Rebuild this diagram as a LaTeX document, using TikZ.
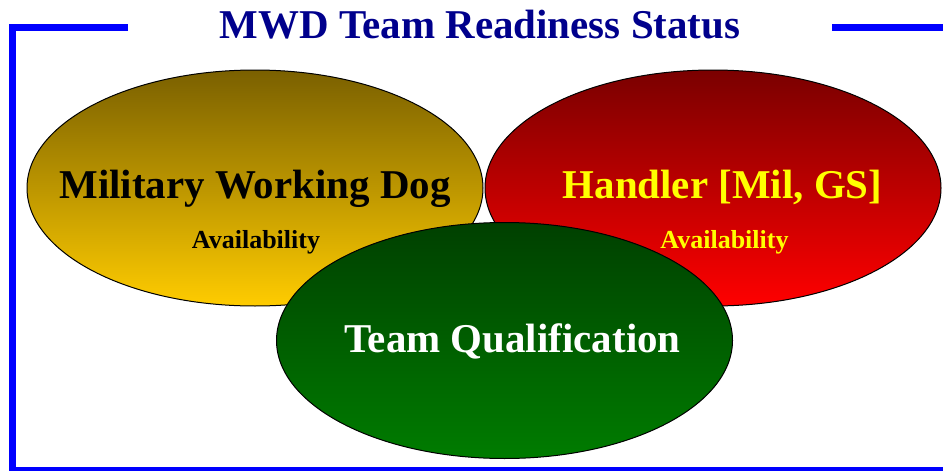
\documentclass[tikz,border=0pt]{standalone}
\usepackage{fontspec}
\setmainfont{Liberation Serif}
\definecolor{framebl}{RGB}{0,0,255}
\definecolor{titlebl}{RGB}{0,0,140}
\definecolor{goldtop}{RGB}{122,96,0}
\definecolor{goldbot}{RGB}{255,204,0}
\definecolor{redtop}{RGB}{122,0,0}
\definecolor{redbot}{RGB}{255,0,0}
\definecolor{greentop}{RGB}{0,64,0}
\definecolor{greenbot}{RGB}{0,124,0}
\definecolor{txtyel}{RGB}{255,255,0}
\tikzset{every picture/.style={line width=0.75pt}}
\tikzset{
  bigtxt/.style={font=\fontsize{30.7}{34}\selectfont\bfseries, anchor=base, inner sep=0pt},
  smalltxt/.style={font=\fontsize{19.5}{22}\selectfont\bfseries, anchor=base, inner sep=0pt}
}

\begin{document}
\begin{tikzpicture}[x=0.75pt,y=0.75pt,yscale=-1,xscale=1]
	\useasboundingbox (0,0) rectangle (943,471);

	%Shape: Frame
	\draw [color=framebl, line width=4.9pt] (128,27.7) -- (12.5,27.7) -- (12.5,470.5) -- (943,470.5) ;
	\draw [color=framebl, line width=4.9pt] (832,27.7) -- (943,27.7) ;

	%Shape: Ellipse
	\draw [top color=goldtop, bottom color=goldbot] (255,188) ellipse [x radius=228, y radius=118] ;
	%Shape: Ellipse
	\draw [top color=redtop, bottom color=redbot] (713,188) ellipse [x radius=228, y radius=118] ;
	%Shape: Ellipse
	\draw [top color=greentop, bottom color=greenbot] (504.5,340.5) ellipse [x radius=228, y radius=118] ;

	% Text Node
	\node [bigtxt, text=titlebl] (title) at (480,38) {MWD Team Readiness Status};
	% Text Node
	\node [bigtxt, text=black] (dog) at (255,198) {Military Working Dog};
	% Text Node
	\node [smalltxt, text=black] (dogavail) at (256,248) {Availability};
	% Text Node
	\node [bigtxt, text=txtyel] (handler) at (722.5,198) {Handler [Mil, GS]};
	% Text Node
	\node [smalltxt, text=txtyel] (handleravail) at (724.5,248) {Availability};
	% Text Node
	\node [bigtxt, text=white] (team) at (512.5,352) {Team Qualification};

\end{tikzpicture}
\end{document}
